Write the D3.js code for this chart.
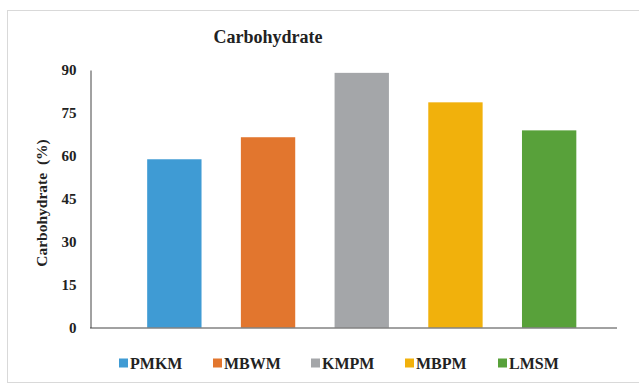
<!DOCTYPE html>
<html>
<head>
<meta charset="utf-8">
<script src="https://cdn.jsdelivr.net/npm/d3@7/dist/d3.min.js"></script>
<style>
  html, body { margin: 0; padding: 0; background: #fff; }
  svg { display: block; }
</style>
</head>
<body>
<svg id="chart" width="639" height="387"></svg>
<script>
const categories = ["PMKM", "MBWM", "KMPM", "MBPM", "LMSM"];
const values = [58.8, 66.5, 89.0, 78.7, 68.9];
const colors = ["#3f9bd4", "#e2762e", "#a4a6a9", "#f1b10c", "#58a13a"];
const yTicks = [0, 15, 30, 45, 60, 75, 90];

const FONT = "Liberation Serif";

const svg = d3.select("#chart");

// outer frame
svg.append("rect")
  .attr("x", 7.5).attr("y", 10.5)
  .attr("width", 632).attr("height", 372)
  .attr("fill", "none").attr("stroke", "#d9d9d9");

const y = d3.scaleLinear().domain([0, 90]).range([327.5, 70]);
const x = d3.scaleBand().domain(categories).range([127.5, 596]).paddingInner(0.42).paddingOuter(0.21);

function styleText(sel, size) {
  sel.attr("font-family", FONT)
    .attr("font-weight", "bold")
    .attr("font-size", size)
    .attr("fill", "#222");
}

// title
svg.append("text")
  .attr("x", 268).attr("y", 43)
  .attr("text-anchor", "middle")
  .call(styleText, 18)
  .text("Carbohydrate");

// bars
svg.append("g").selectAll("rect")
  .data(categories)
  .join("rect")
  .attr("x", d => x(d))
  .attr("width", x.bandwidth())
  .attr("y", (d, i) => y(values[i]))
  .attr("height", (d, i) => y(0) - y(values[i]))
  .attr("fill", (d, i) => colors[i]);

// y axis
const yAxis = svg.append("g")
  .attr("transform", "translate(90.5,0)")
  .call(d3.axisLeft(y).tickValues(yTicks).tickSize(0).tickPadding(14));
yAxis.select(".domain").attr("stroke", "#444");
yAxis.attr("font-family", FONT).attr("font-size", 15);
yAxis.selectAll("text").call(styleText, 15);

// x axis baseline
svg.append("line")
  .attr("x1", 90).attr("x2", 617)
  .attr("y1", y(0) + 0.5).attr("y2", y(0) + 0.5)
  .attr("stroke", "#444");

// y axis title
svg.append("text")
  .attr("transform", "translate(47,203) rotate(-90)")
  .attr("text-anchor", "middle")
  .attr("xml:space", "preserve")
  .call(styleText, 15.5)
  .text("Carbohydrate  (%)");

// legend
const legendX = [119, 213, 311, 405, 498];
const legend = svg.append("g").selectAll("g")
  .data(categories)
  .join("g")
  .attr("transform", (d, i) => `translate(${legendX[i]},363)`);
legend.append("rect")
  .attr("x", 0).attr("y", -4.5)
  .attr("width", 9).attr("height", 9)
  .attr("fill", (d, i) => colors[i]);
legend.append("text")
  .attr("x", 11).attr("y", 5.5)
  .call(styleText, 16)
  .text(d => d);
</script>
</body>
</html>
